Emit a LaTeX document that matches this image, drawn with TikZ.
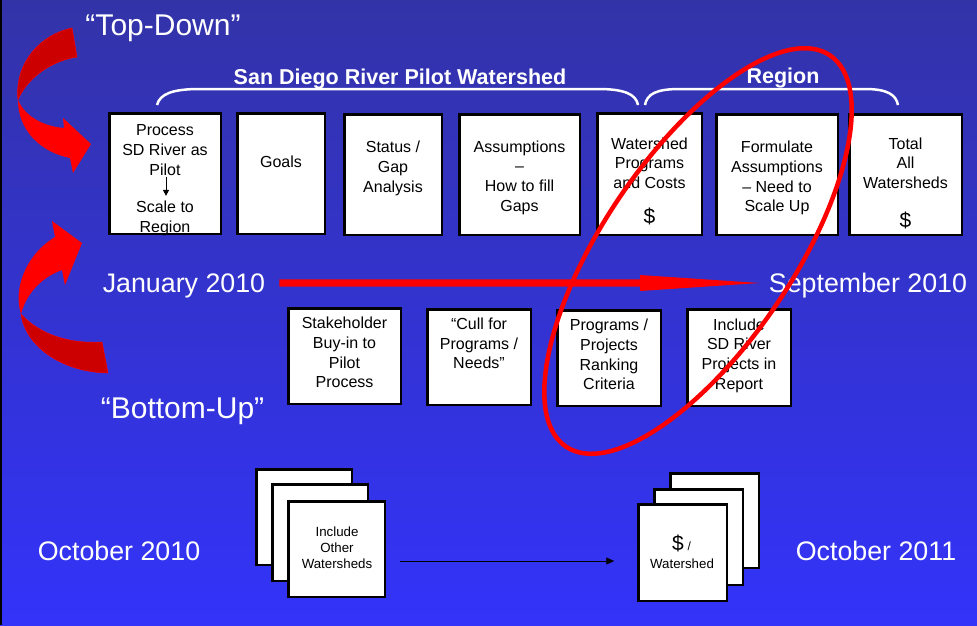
\documentclass[tikz,border=0pt]{standalone}
\usepackage{fontspec}
\setmainfont{Liberation Sans}
\usetikzlibrary{arrows.meta,calc}
\definecolor{bgtop}{RGB}{51,51,168}
\definecolor{bgbot}{RGB}{51,51,250}
\definecolor{darkred}{RGB}{204,0,0}
\tikzset{
 bx/.style={draw=black, fill=white, line width=2.5pt, inner sep=0pt, outer sep=0pt},
 txt/.style={align=center, inner sep=0pt, text=black, font=\fontsize{16}{19.7}\selectfont},
 smalltxt/.style={align=center, inner sep=0pt, text=black, font=\fontsize{13.3}{16}\selectfont},
 dollar/.style={inner sep=0pt, text=black, font=\fontsize{21}{21}\selectfont},
 datelbl/.style={inner sep=0pt, anchor=base, text=white, font=\fontsize{26.8}{30}\selectfont},
 biglbl/.style={inner sep=0pt, anchor=base, text=white, font=\fontsize{30}{34}\selectfont},
 headlbl/.style={inner sep=0pt, anchor=base, text=white, font=\bfseries\fontsize{21.5}{24}\selectfont},
 bracepath/.style={draw=white, line width=2.5pt},
 smallarrow/.style={-{Triangle[length=6pt,width=6pt]}, line width=0.9pt, black},
}
\begin{document}
\begin{tikzpicture}[x=1pt,y=-1pt]
\useasboundingbox (0,0) rectangle (977,625);
\shade[top color=bgtop, bottom color=bgbot] (0,0) rectangle (977,625);
\draw[black, line width=2pt] (1,0) -- (1,625);

% curved "top-down" arrow
\fill[darkred, draw=red, line width=0.5pt] (72,28) .. controls (42,34) and (14,62) .. (18,100)
   .. controls (24,84) and (45,62) .. (77,57) -- cycle;
\fill[red] (18,100) .. controls (18,130) and (40,152) .. (70,158) -- (73,173) -- (91,144) -- (63,118) -- (64,128)
   .. controls (42,126) and (25,116) .. (18,100) -- cycle;

% curved "bottom-up" arrow
\fill[red] (55,237) -- (52,221) -- (82,243) -- (65,285) -- (62,270)
   .. controls (40,278) and (26,295) .. (21,314)
   .. controls (13,290) and (25,255) .. (55,237) -- cycle;
\fill[darkred, draw=red, line width=0.5pt] (21,314) .. controls (25,345) and (60,372) .. (108,373) -- (102,342)
   .. controls (70,344) and (40,335) .. (21,314) -- cycle;

% labels
\node[biglbl] (topdown) at (163,35) {“Top-Down”};
\node[biglbl] (bottomup) at (182.5,418) {“Bottom-Up”};
\node[headlbl] (sdtitle) at (400,84) {San Diego River Pilot Watershed};
\node[headlbl] (regtitle) at (783,83.5) {Region};

% braces
\draw[bracepath] (157,105) .. controls (160,94) and (172,89) .. (200,89) -- (598,89)
   .. controls (624,89) and (636,94) .. (638,105);
\draw[bracepath] (645,105) .. controls (647,94) and (656,89) .. (680,89) -- (865,89)
   .. controls (888,89) and (896,95) .. (898,105);

% top row boxes
\node[bx, minimum width=111.5pt, minimum height=120.5pt] (b1) at (165,173.5) {};
\node[bx, minimum width=87.5pt, minimum height=120.5pt] (b2) at (281,173.5) {};
\node[bx, minimum width=97.5pt, minimum height=120.5pt] (b3) at (393,174.5) {};
\node[bx, minimum width=120.5pt, minimum height=120.5pt] (b4) at (519.5,174.5) {};
\node[bx, minimum width=104.5pt, minimum height=121.5pt] (b5) at (649.5,174) {};
\node[bx, minimum width=121.5pt, minimum height=120.5pt] (b6) at (777,174.5) {};
\node[bx, minimum width=112.5pt, minimum height=120.5pt] (b7) at (905.5,174.5) {};

\node[txt] (t1a) at (165,150.2) {Process\\SD River as\\Pilot};
\node[txt] (t1b) at (165,218.4) {Scale to\\Region};
\draw[smallarrow] ([xshift=1pt,yshift=-1pt]t1a.south) -- ([xshift=1pt,yshift=5pt]t1b.north);
\node[txt] (t2) at (281,162) {Goals};
\node[txt] (t3) at (393,168.2) {Status /\\Gap\\Analysis};
\node[txt] (t4) at (519.5,177.7) {Assumptions\\–\\How to fill\\Gaps};
\node[txt] (t5) at (649.5,163) {Watershed\\Programs\\and Costs};
\node[dollar] (d5) at (649.5,216) {\$};
\node[txt] (t6) at (777,178.2) {Formulate\\Assumptions\\– Need to\\Scale Up};
\node[txt] (t7) at (905.5,163) {Total\\All\\Watersheds};
\node[dollar] (d7) at (905.5,220) {\$};

% timeline
\node[datelbl] (jan) at (184,292.7) {January 2010};
\node[datelbl] (sep) at (868,292) {September 2010};
\coordinate (tl0) at ([xshift=14pt]jan.east |- 0,283);
\coordinate (tlh) at (640,283);
\coordinate (tl1) at ([xshift=-9pt]sep.west |- 0,283);
\fill[red] ([yshift=3.6pt]tl0) -- ([yshift=3.6pt]tlh) -- ([yshift=8pt]tlh) -- (tl1)
   -- ([yshift=-8pt]tlh) -- ([yshift=-3.6pt]tlh) -- ([yshift=-3.6pt]tl0) -- cycle;

% middle row boxes
\node[bx, minimum width=112.5pt, minimum height=95.5pt] (m1) at (344.5,356) {};
\node[bx, minimum width=103.5pt, minimum height=95.5pt] (m2) at (479,357) {};
\node[bx, minimum width=103.5pt, minimum height=95.5pt] (m3) at (609,358) {};
\node[bx, minimum width=103.5pt, minimum height=96.5pt] (m4) at (739,357.5) {};
\node[txt] (u1) at (344.5,352.5) {Stakeholder\\Buy-in to\\Pilot\\Process};
\node[txt] (u2) at (479,343.5) {“Cull for\\Programs /\\Needs”};
\node[txt] (u3) at (609,354.5) {Programs /\\Projects\\Ranking\\Criteria};
\node[txt] (u4) at (739,355.7) {Include\\SD River\\Projects in\\Report};

% bottom stacks
\node[datelbl] (oct10) at (119,560) {October 2010};
\node[datelbl] (oct11) at (876,560) {October 2011};
\node[bx, minimum width=95.5pt, minimum height=95.5pt] (l3) at (304,517) {};
\node[bx, minimum width=95.5pt, minimum height=96.5pt] (l2) at (320,532.5) {};
\node[bx, minimum width=96.5pt, minimum height=95.5pt] (l1) at (336.5,549) {};
\node[smalltxt] (lt) at (337,548) {Include\\Other\\Watersheds};
\node[bx, minimum width=88.5pt, minimum height=94.5pt] (r3) at (714.5,520.5) {};
\node[bx, minimum width=88.5pt, minimum height=95.5pt] (r2) at (698.5,537) {};
\node[bx, minimum width=88.5pt, minimum height=96.5pt] (r1) at (682.5,552.5) {};
\node[inner sep=0pt] (rt1) at (681.5,543) {{\fontsize{21}{21}\selectfont\$}\hspace{4pt}{\fontsize{12}{12}\selectfont /}};
\node[smalltxt] (rt2) at (682,564) {Watershed};
\draw[-{Triangle[length=8pt,width=7pt]}, line width=0.9pt, black]
   ([xshift=15pt,yshift=-12pt]l1.east) -- ([xshift=-24pt,yshift=-8.5pt]r1.west);

% red ellipse
\draw[red, line width=4.5pt, rotate around={56:(698,251)}] (698,251) ellipse [x radius=236pt, y radius=95pt];
\end{tikzpicture}
\end{document}
